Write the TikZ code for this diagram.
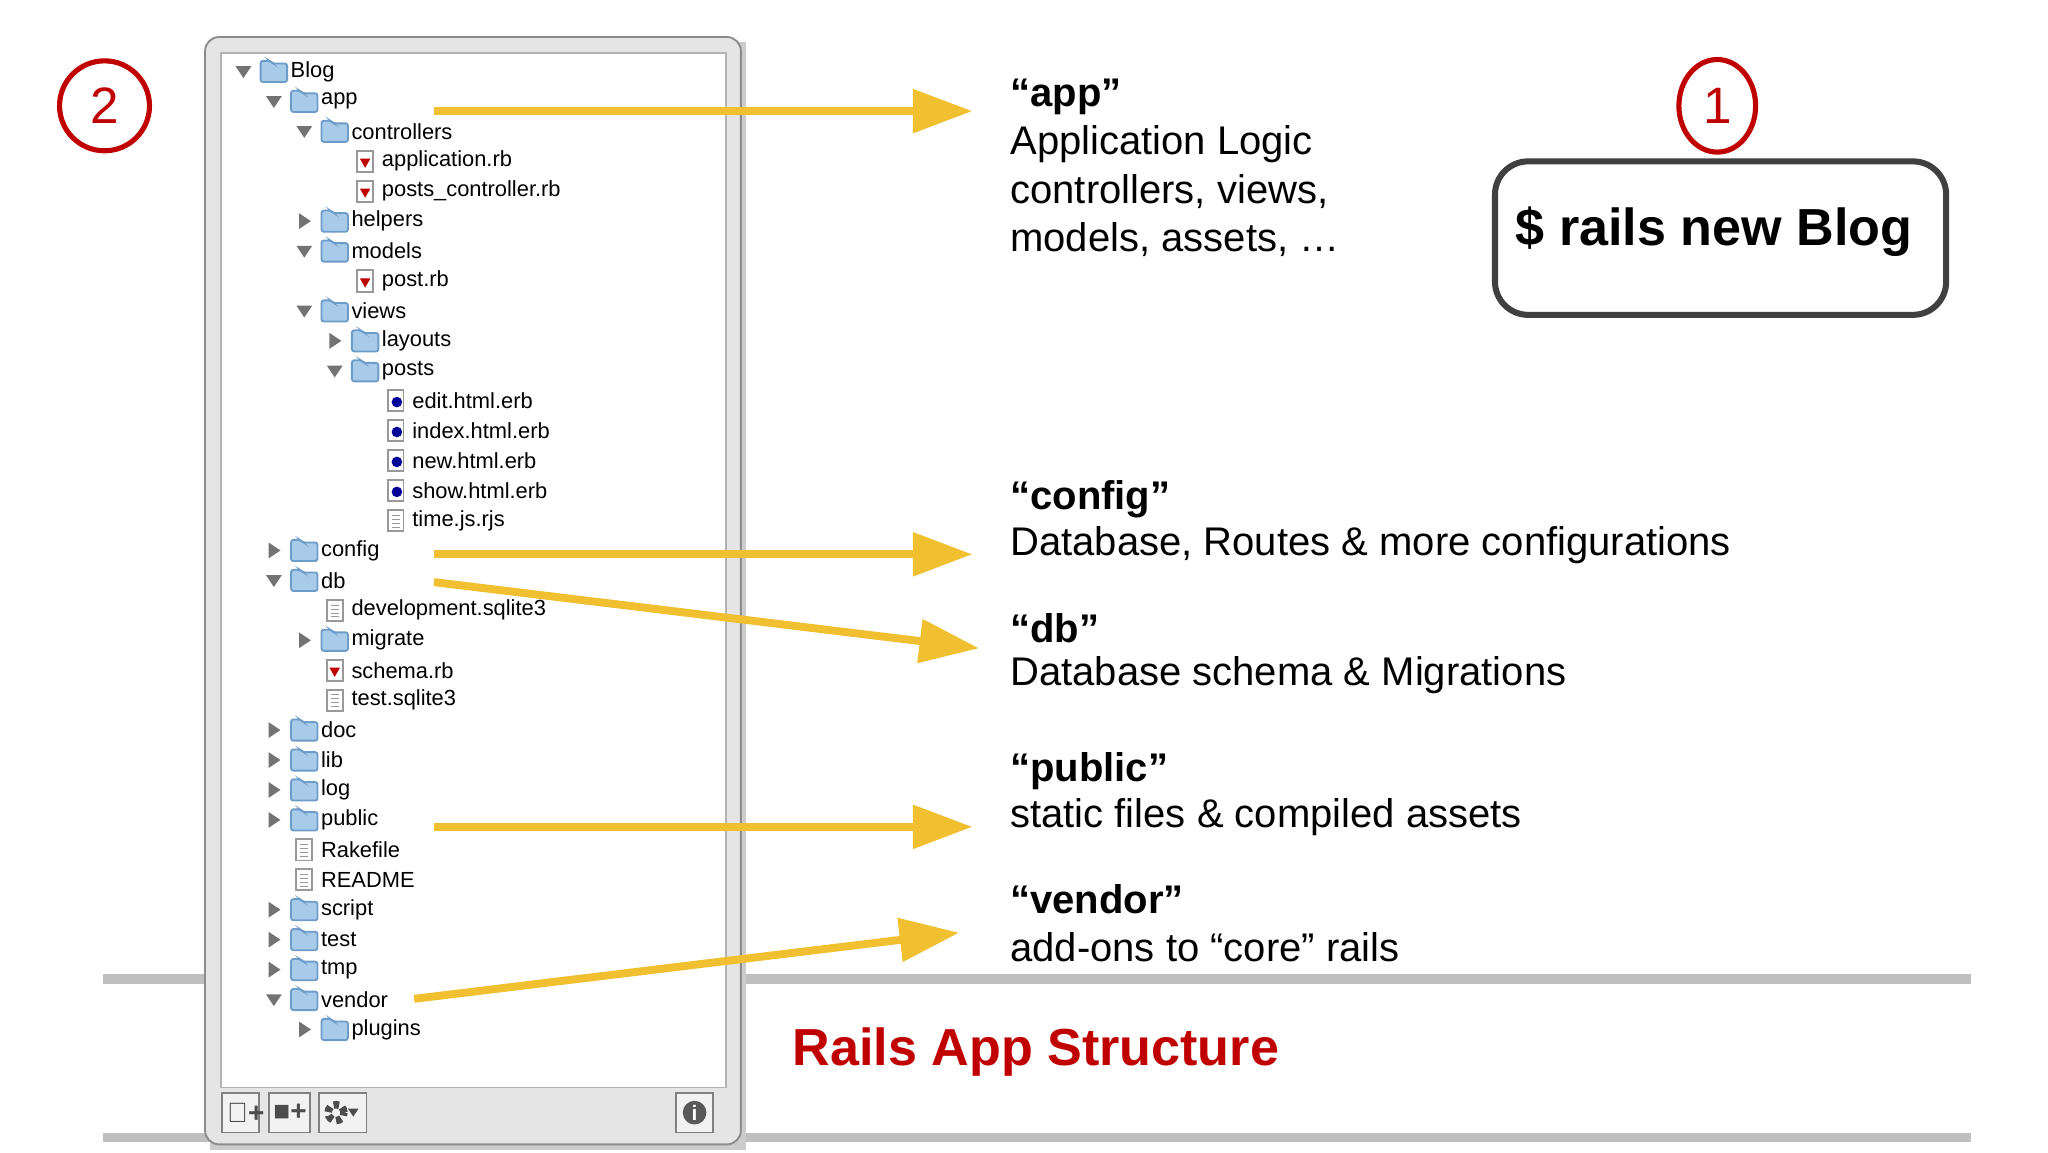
\documentclass[tikz,border=0pt]{standalone}
\usepackage{fontspec}
\setmainfont{Liberation Sans}
\usetikzlibrary{arrows.meta,shapes.geometric}
\definecolor{arr}{HTML}{F0C030}
\definecolor{dred}{HTML}{C00000}
\definecolor{fold}{HTML}{A9CBEA}
\definecolor{foldd}{HTML}{6E9CC8}
\begin{document}
\begin{tikzpicture}[x=0.01cm,y=-0.01cm,
  body/.style={anchor=west,inner sep=0pt,font=\fontsize{8.6}{10}\selectfont},
  head/.style={body,font=\fontsize{8.6}{10}\selectfont\bfseries},
  tree/.style={anchor=west,inner sep=0pt,font=\fontsize{4.7}{5}\selectfont},
  yarrow/.style={arr,line width=1.7pt,-{Triangle[length=0.45cm,width=0.32cm]}},
  gline/.style={draw=black!25,line width=2pt},
  tri/.style={fill=black!55}]
\useasboundingbox (0,0) rectangle (1548,871);
% gray rules
\draw[gline] (78,740) -- (1490,740);
\draw[gline] (78,860) -- (1490,860);
% window
\fill[black!20] (159,32) rectangle (564,869);
\draw[black!45,fill=black!10,rounded corners=3pt] (155,28) rectangle (560,865);
\draw[black!30,fill=white] (167,40) rectangle (549,822);
% bottom buttons
\foreach \a/\b in {168/196,203/234,241/277}{
  \draw[black!50,fill=black!5] (\a,826) rectangle (\b,856);
}
\node[tree,font=\fontsize{6}{6}\selectfont\bfseries,text=black!70] (b1) at (171,841) {\char"25AF+};
\node[tree,font=\fontsize{6}{6}\selectfont\bfseries,text=black!70] (b2) at (206,841) {\char"25A0+};
\node[circle,draw=black!70,line width=1.6pt,dash pattern=on 1.2pt off 0.8pt,minimum size=0.12cm,inner sep=0pt] (b3) at (254,841) {};
\fill[black!70] (263,838) -- (271,838) -- (267,844) -- cycle;
\draw[black!50,fill=black!5] (511,826) rectangle (539,856);
\node[circle,fill=black!65,text=white,inner sep=0.6pt,font=\fontsize{4.5}{5}\selectfont\bfseries] (info) at (525,841) {i};
% tree
\foreach \i/\L/\t/\k/\n in {
0/0/o/f/Blog,1/1/o/f/app,2/2/o/f/controllers,3/3/n/r/application.rb,4/3/n/r/posts\_controller.rb,
5/2/c/f/helpers,6/2/o/f/models,7/3/n/r/post.rb,8/2/o/f/views,9/3/c/f/layouts,10/3/o/f/posts,
11/4/n/e/edit.html.erb,12/4/n/e/index.html.erb,13/4/n/e/new.html.erb,14/4/n/e/show.html.erb,15/4/n/d/time.js.rjs,
16/1/c/f/config,17/1/o/f/db,18/2/n/d/development.sqlite3,19/2/c/f/migrate,20/2/n/r/schema.rb,21/2/n/d/test.sqlite3,
22/1/c/f/doc,23/1/c/f/lib,24/1/c/f/log,25/1/c/f/public,26/1/n/d/Rakefile,27/1/n/d/README,
28/1/c/f/script,29/1/c/f/test,30/1/c/f/tmp,31/1/o/f/vendor,32/2/c/f/plugins}{
  \pgfmathsetmacro\yy{54+22.63*\i}
  \pgfmathsetmacro\tx{184+23*\L}
  \pgfmathsetmacro\ix{207+23*\L}
  \pgfmathsetmacro\nx{219+23*\L}
  \if\t o \fill[tri] (\tx-6,\yy-4) -- (\tx+6,\yy-4) -- (\tx,\yy+5) -- cycle; \fi
  \if\t c \fill[tri] (\tx-4,\yy-6) -- (\tx-4,\yy+6) -- (\tx+5,\yy) -- cycle; \fi
  \if\k f
    \draw[foldd,fill=fold,rounded corners=0.5pt] (\ix-10,\yy-8) -- (\ix-3,\yy-8) -- (\ix-1,\yy-6) -- (\ix+10,\yy-6) -- (\ix+10,\yy+8) -- (\ix-10,\yy+8) -- cycle;
  \fi
  \if\k r
    \draw[black!40,fill=white] (\ix-6,\yy-8) rectangle (\ix+6,\yy+8);
    \fill[dred] (\ix-4,\yy-2) -- (\ix+4,\yy-2) -- (\ix,\yy+5) -- cycle;
  \fi
  \if\k e
    \draw[black!40,fill=white] (\ix-6,\yy-8) rectangle (\ix+6,\yy+8);
    \fill[blue!60!black] (\ix+1,\yy+1) circle (4);
  \fi
  \if\k d
    \draw[black!40,fill=white] (\ix-6,\yy-8) rectangle (\ix+6,\yy+8);
    \foreach \q in {-4,-1,2,5}{\draw[black!40,line width=0.2pt] (\ix-3,\yy+\q) -- (\ix+3,\yy+\q);}
  \fi
  \node[tree] (t\i) at (\nx,\yy) {\n};
}
% arrow endpoints
\coordinate (s1) at (328,84);  \coordinate (e1) at (735,84);
\coordinate (s2) at (328,419); \coordinate (e2) at (735,419);
\coordinate (s3) at (328,440); \coordinate (e3) at (740,490);
\coordinate (s4) at (328,625); \coordinate (e4) at (735,625);
\coordinate (s5) at (313,755); \coordinate (e5) at (725,705);
\foreach \j in {1,...,5}{\draw[yarrow] (s\j) -- (e\j);}
% texts
\node[head] (h1) at (763,73) {“app”};
\node[body] (d1a) at (763,109) {Application Logic};
\node[body] (d1b) at (763,145) {controllers, views,};
\node[body] (d1c) at (763,181) {models, assets, …};
\node[head] (h2) at (763,377) {“config”};
\node[body] (d2) at (763,412) {Database, Routes \& more configurations};
\node[head] (h3) at (763,475) {“db”};
\node[body] (d3) at (763,510) {Database schema \& Migrations};
\node[head] (h4) at (763,583) {“public”};
\node[body] (d4) at (763,618) {static files \& compiled assets};
\node[head] (h5) at (763,680) {“vendor”};
\node[body] (d5) at (763,716) {add-ons to “core” rails};
% circles
\draw[dred,line width=1.1pt] (79,80) circle (34);
\node[font=\fontsize{11}{12}\selectfont,text=dred] (n2) at (79,80) {2};
\draw[dred,line width=1.1pt] (1298,80) ellipse (29 and 35);
\node[font=\fontsize{11}{12}\selectfont,text=dred] (n1) at (1298,80) {1};
% command box
\draw[black!75,line width=1.3pt,rounded corners=0.25cm] (1130,122) rectangle (1471,238);
\node[anchor=west,inner sep=0pt,font=\fontsize{11.2}{13}\selectfont\bfseries] (cmd) at (1145,175) {\$ rails new Blog};
% title
\node[font=\fontsize{11.2}{13}\selectfont\bfseries,text=dred] (title) at (783,795) {Rails App Structure};
\end{tikzpicture}
\end{document}
